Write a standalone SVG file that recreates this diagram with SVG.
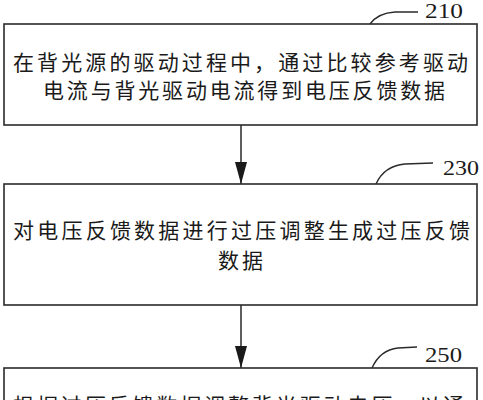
<svg xmlns="http://www.w3.org/2000/svg" width="483" height="400" viewBox="0 0 483 400">
<style>
.box{fill:#fff;stroke:#2a2a2a;stroke-width:1.6}
.t{font-family:"Noto Sans CJK SC","Noto Sans CJK JP",sans-serif;font-size:21px;fill:#1a1a1a;dominant-baseline:central}
.n{font-family:"Liberation Serif","Times New Roman",serif;font-size:21px;fill:#1a1a1a}
.lead{fill:none;stroke:#2a2a2a;stroke-width:1.4}
.c{stroke:#1a1a1a;stroke-width:1.4;fill:none}
</style>
<defs>
<marker id="ah" markerWidth="22" markerHeight="12" refX="22" refY="6" orient="auto" markerUnits="userSpaceOnUse" viewBox="0 0 22 12">
<path d="M0,0 L22,6 L0,12 Z" fill="#1a1a1a"/>
</marker>
</defs>
<rect width="483" height="400" fill="#fff"/>
<g id="connectors">
<line class="c" x1="241" y1="125" x2="241" y2="184" marker-end="url(#ah)"/>
<line class="c" x1="241" y1="305" x2="241" y2="368" marker-end="url(#ah)"/>
</g>
<g id="n210">
<rect class="box" x="4" y="24" width="473" height="101"/>
<text class="t" x="13" y="61" textLength="455" lengthAdjust="spacing">在背光源的驱动过程中，通过比较参考驱动</text>
<text class="t" x="43" y="89" textLength="402" lengthAdjust="spacing">电流与背光驱动电流得到电压反馈数据</text>
<path class="lead" d="M370,24 Q378,13 395,12 L418,12"/>
<text class="n" x="425" y="18" textLength="38" lengthAdjust="spacingAndGlyphs">210</text>
</g>
<g id="n230">
<rect class="box" x="4" y="184" width="473" height="121"/>
<text class="t" x="13" y="229" textLength="457" lengthAdjust="spacing">对电压反馈数据进行过压调整生成过压反馈</text>
<text class="t" x="218" y="259" textLength="45" lengthAdjust="spacing">数据</text>
<path class="lead" d="M376,184 Q384,166 405,164 L433,163"/>
<text class="n" x="443" y="175" textLength="36" lengthAdjust="spacingAndGlyphs">230</text>
</g>
<g id="n250">
<rect class="box" x="4" y="368" width="473" height="60"/>
<text class="t" x="13" y="404" textLength="451" lengthAdjust="spacing">根据过压反馈数据调整背光驱动电压，以通</text>
<path class="lead" d="M372,368 Q380,350 398,348 L417,347"/>
<text class="n" x="425" y="362" textLength="37" lengthAdjust="spacingAndGlyphs">250</text>
</g>
</svg>
